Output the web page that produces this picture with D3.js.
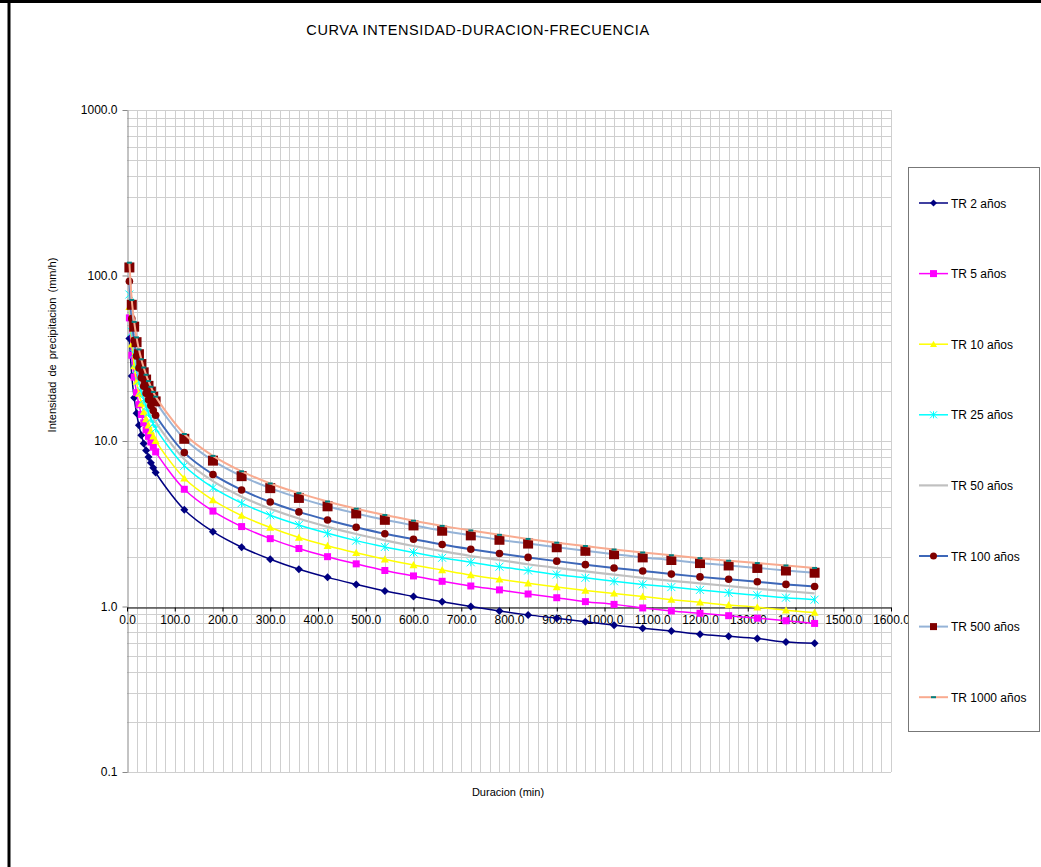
<!DOCTYPE html>
<html>
<head>
<meta charset="utf-8">
<script src="https://cdn.jsdelivr.net/npm/d3@7"></script>
<style>
   body { margin: 0; background: #fff; }
   svg { display: block; font-family: Arial, 'Liberation Sans', sans-serif; }
</style>
</head>
<body>
<div id="chart"></div>
<script>
// durations (min) and intensities (mm/h)
const durations = [5, 10, 15, 20, 25, 30, 35, 40, 45, 50, 55, 60,
   120, 180, 240, 300, 360, 420, 480, 540, 600, 660, 720, 780, 840,
   900, 960, 1020, 1080, 1140, 1200, 1260, 1320, 1380, 1440];

const tr2 = [41.60, 24.74, 18.25, 14.71, 12.44, 10.85, 9.67, 8.75, 8.01, 7.40, 6.89, 6.45,
   3.84, 2.83, 2.28, 1.93, 1.68, 1.50, 1.36, 1.24, 1.15, 1.07, 1.00, 0.94, 0.89,
   0.85, 0.81, 0.77, 0.74, 0.71, 0.68, 0.66, 0.64, 0.61, 0.60];
const tr5 = [55.45, 32.97, 24.32, 19.60, 16.58, 14.46, 12.88, 11.66, 10.67, 9.86, 9.18, 8.60,
   5.11, 3.77, 3.04, 2.57, 2.24, 2.00, 1.81, 1.65, 1.53, 1.42, 1.33, 1.26, 1.19,
   1.13, 1.07, 1.03, 0.98, 0.94, 0.91, 0.88, 0.85, 0.82, 0.79];
const tr10 = [64.60, 38.41, 28.34, 22.84, 19.32, 16.85, 15.01, 13.58, 12.43, 11.49, 10.69, 10.02,
   5.96, 4.40, 3.54, 3.00, 2.61, 2.33, 2.11, 1.93, 1.78, 1.66, 1.55, 1.46, 1.38,
   1.31, 1.25, 1.20, 1.15, 1.10, 1.06, 1.02, 0.99, 0.95, 0.92];
const tr25 = [76.77, 45.65, 33.68, 27.14, 22.96, 20.03, 17.84, 16.14, 14.78, 13.65, 12.71, 11.91,
   7.08, 5.22, 4.21, 3.56, 3.11, 2.77, 2.50, 2.29, 2.12, 1.97, 1.85, 1.74, 1.65,
   1.56, 1.49, 1.42, 1.36, 1.31, 1.26, 1.21, 1.17, 1.13, 1.10];
const tr50 = [84.10, 50.01, 36.89, 29.73, 25.15, 21.94, 19.54, 17.68, 16.19, 14.95, 13.92, 13.04,
   7.76, 5.72, 4.61, 3.90, 3.40, 3.03, 2.74, 2.51, 2.32, 2.16, 2.02, 1.91, 1.80,
   1.71, 1.63, 1.56, 1.49, 1.43, 1.38, 1.33, 1.28, 1.24, 1.20];
const tr100 = [92.29, 54.88, 40.49, 32.63, 27.60, 24.07, 21.44, 19.40, 17.76, 16.41, 15.28, 14.32,
   8.51, 6.28, 5.06, 4.28, 3.73, 3.33, 3.01, 2.75, 2.55, 2.37, 2.22, 2.09, 1.98,
   1.88, 1.79, 1.71, 1.64, 1.57, 1.51, 1.46, 1.41, 1.36, 1.32];
const tr500 = [111.85, 66.51, 49.07, 39.55, 33.45, 29.18, 25.99, 23.51, 21.53, 19.89, 18.52, 17.35,
   10.31, 7.61, 6.13, 5.19, 4.53, 4.03, 3.65, 3.34, 3.09, 2.87, 2.69, 2.53, 2.40,
   2.28, 2.17, 2.07, 1.98, 1.91, 1.83, 1.77, 1.71, 1.65, 1.60];
const tr1000 = [119.54, 71.08, 52.44, 42.26, 35.75, 31.18, 27.78, 25.13, 23.01, 21.26, 19.79, 18.54,
   11.02, 8.13, 6.56, 5.54, 4.84, 4.31, 3.90, 3.57, 3.30, 3.07, 2.88, 2.71, 2.56,
   2.43, 2.32, 2.21, 2.12, 2.04, 1.96, 1.89, 1.83, 1.77, 1.71];

const seriesNames = ['TR 2 años', 'TR 5 años', 'TR 10 años', 'TR 25 años',
   'TR 50 años', 'TR 100 años', 'TR 500 años', 'TR 1000 años'];
const seriesValues = [tr2, tr5, tr10, tr25, tr50, tr100, tr500, tr1000];

const xTicks = d3.range(0, 1601, 100);
const yTicks = [0.1, 1, 10, 100, 1000];

const titleText = 'CURVA INTENSIDAD-DURACION-FRECUENCIA';
const xTitle = 'Duracion (min)';
const yTitle = 'Intensidad de precipitacion (mm/h)';

//line + marker style of each series (excel-like)
const styles = [
   { line: '#000080', width: 1.5, marker: 'diamond', fill: '#000080', r: 4 },
   { line: '#FF00FF', width: 1.5, marker: 'square', fill: '#FF00FF', r: 3.5 },
   { line: '#FFFF00', width: 1.5, marker: 'triangle', fill: '#FFFF00', r: 4 },
   { line: '#00FFFF', width: 1.5, marker: 'star', fill: '#00FFFF', r: 4 },
   { line: '#C0C0C0', width: 2.2, marker: 'none' },
   { line: '#3D67B8', width: 2, marker: 'circle', fill: '#800000', r: 3.8 },
   { line: '#95B3D7', width: 2, marker: 'square', fill: '#800000', r: 5 },
   { line: '#F9AA8F', width: 2, marker: 'dash', fill: '#008080', r: 2.5 },
];

const width = 1041;
const height = 867;
const plot = { left: 127, right: 891, top: 110, bottom: 772 };

const svg = d3.select('#chart')
   .append('svg')
   .attr('width', width)
   .attr('height', height);

svg.append('rect').attr('width', width).attr('height', height).attr('fill', '#fff');

//frame lines on the top and left of the picture
svg.append('line')
   .attr('x1', 0).attr('x2', width).attr('y1', 1.5).attr('y2', 1.5)
   .attr('stroke', '#000').attr('stroke-width', 3);
svg.append('line')
   .attr('x1', 9).attr('x2', 9).attr('y1', 0).attr('y2', height)
   .attr('stroke', '#000').attr('stroke-width', 3);

const x = d3.scaleLinear().domain([0, 1600]).range([plot.left, plot.right]);
const y = d3.scaleLog().domain([0.1, 1000]).range([plot.bottom, plot.top]);

//gridlines
const grid = svg.append('g').attr('stroke', '#cfcfcf').attr('stroke-width', 1);
grid.selectAll('.vgrid')
   .data(d3.range(20, 1601, 20))
   .join('line')
   .attr('x1', (d) => Math.round(x(d)) + 0.5)
   .attr('x2', (d) => Math.round(x(d)) + 0.5)
   .attr('y1', plot.top)
   .attr('y2', plot.bottom);
const hgrid = [];
[0.1, 1, 10, 100].forEach((p) => {
   for (let k = 1; k <= 10; k++) hgrid.push(p * k);
});
grid.selectAll('.hgrid')
   .data(hgrid)
   .join('line')
   .attr('x1', plot.left)
   .attr('x2', plot.right)
   .attr('y1', (d) => Math.round(y(d)) + 0.5)
   .attr('y2', (d) => Math.round(y(d)) + 0.5);

//axes
const yAxis = svg.append('g')
   .attr('transform', `translate(${plot.left + 0.5},0)`)
   .call(d3.axisLeft(y).tickValues(yTicks).tickFormat(d3.format('.1f'))
      .tickSize(5).tickSizeOuter(0).tickPadding(5));
yAxis.select('.domain').attr('stroke', '#888');
yAxis.selectAll('.tick line').attr('stroke', '#888');
yAxis.selectAll('text').attr('font-size', 12).attr('fill', '#000')
   .attr('font-family', 'Arial, Liberation Sans, sans-serif');

const xAxis = svg.append('g')
   .attr('transform', `translate(0,${Math.round(y(1)) + 0.5})`)
   .call(d3.axisBottom(x).tickValues(xTicks).tickFormat(d3.format('.1f'))
      .tickSize(4).tickSizeOuter(0).tickPadding(4));
xAxis.select('.domain').attr('stroke', '#000');
xAxis.selectAll('.tick line').attr('stroke', '#000');
xAxis.selectAll('text').attr('font-size', 12).attr('fill', '#000')
   .attr('font-family', 'Arial, Liberation Sans, sans-serif');

function markerPath(type, r) {
   switch (type) {
      case 'diamond':
         return `M0,${-r}L${r},0L0,${r}L${-r},0Z`;
      case 'square':
         return `M${-r},${-r}H${r}V${r}H${-r}Z`;
      case 'triangle':
         return `M0,${-r}L${r},${r * 0.8}L${-r},${r * 0.8}Z`;
      case 'circle':
         return d3.symbol(d3.symbolCircle, Math.PI * r * r)();
      case 'star':
         return `M${-r},${-r}L${r},${r}M${-r},${r}L${r},${-r}M0,${-r}V${r}`;
      case 'dash':
         return `M${-r},-1H${r}V1H${-r}Z`;
      default:
         return '';
   }
}

function drawMarker(sel, st) {
   if (st.marker === 'none') return;
   const stroked = st.marker === 'star';
   sel.append('path')
      .attr('d', markerPath(st.marker, st.r))
      .attr('fill', stroked ? 'none' : st.fill)
      .attr('stroke', stroked ? st.fill : 'none')
      .attr('stroke-width', 1);
}

const line = d3.line()
   .x((d) => x(d[0]))
   .y((d) => y(d[1]))
   .curve(d3.curveCatmullRom.alpha(0.5));

//one group per series: line then markers
seriesValues.forEach((vals, i) => {
   const st = styles[i];
   const pts = durations.map((d, j) => [d, vals[j]]);
   const g = svg.append('g');
   g.append('path')
      .attr('d', line(pts))
      .attr('fill', 'none')
      .attr('stroke', st.line)
      .attr('stroke-width', st.width);
   g.selectAll('.pt')
      .data(pts)
      .join('g')
      .attr('transform', (d) => `translate(${x(d[0])},${y(d[1])})`)
      .each(function () {
         drawMarker(d3.select(this), st);
      });
});

//titles
svg.append('text')
   .attr('x', 478).attr('y', 35)
   .attr('text-anchor', 'middle')
   .attr('font-size', 14.5)
   .attr('letter-spacing', 0.6)
   .text(titleText);

svg.append('text')
   .attr('x', 508).attr('y', 796)
   .attr('text-anchor', 'middle')
   .attr('font-size', 11)
   .text(xTitle);

svg.append('text')
   .attr('transform', 'translate(56,345) rotate(-90)')
   .attr('text-anchor', 'middle')
   .attr('font-size', 11)
   .attr('word-spacing', 2)
   .text(yTitle);

//legend
const legend = svg.append('g');
legend.append('rect')
   .attr('x', 908.5).attr('y', 167.5)
   .attr('width', 131).attr('height', 564)
   .attr('fill', '#fff')
   .attr('stroke', '#777');

const items = legend.selectAll('.item')
   .data(seriesNames)
   .join('g')
   .attr('transform', (d, i) => `translate(919,${203 + i * 70.6})`);
items.append('line')
   .attr('x1', 0).attr('x2', 29)
   .attr('stroke', (d, i) => styles[i].line)
   .attr('stroke-width', (d, i) => styles[i].width);
items.append('g')
   .attr('transform', 'translate(14.5,0)')
   .each(function (d, i) {
      const st = styles[i];
      drawMarker(d3.select(this), { ...st, r: Math.min(st.r, 3.5) });
   });
items.append('text')
   .attr('x', 32).attr('y', 4.5)
   .attr('font-size', 12)
   .text((d) => d);
</script>
</body>
</html>
